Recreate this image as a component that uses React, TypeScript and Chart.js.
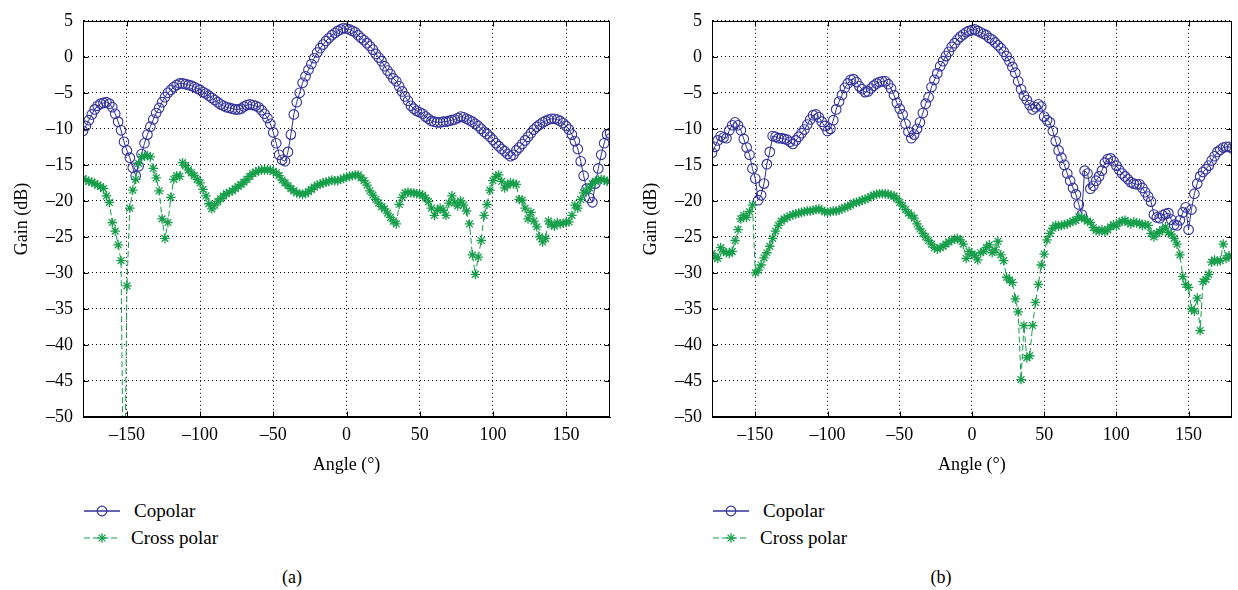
import React, { useEffect, useRef } from "react";
import { Chart, registerables } from "chart.js";

Chart.register(...registerables);

// ---------- data ----------
const angles = [
  -180, -178, -176, -174, -172, -170, -168, -166, -164, -162,
  -160, -158, -156, -154, -152, -150, -148, -146, -144, -142,
  -140, -138, -136, -134, -132, -130, -128, -126, -124, -122,
  -120, -118, -116, -114, -112, -110, -108, -106, -104, -102,
  -100, -98, -96, -94, -92, -90, -88, -86, -84, -82,
  -80, -78, -76, -74, -72, -70, -68, -66, -64, -62,
  -60, -58, -56, -54, -52, -50, -48, -46, -44, -42,
  -40, -38, -36, -34, -32, -30, -28, -26, -24, -22,
  -20, -18, -16, -14, -12, -10, -8, -6, -4, -2,
  0, 2, 4, 6, 8, 10, 12, 14, 16, 18,
  20, 22, 24, 26, 28, 30, 32, 34, 36, 38,
  40, 42, 44, 46, 48, 50, 52, 54, 56, 58,
  60, 62, 64, 66, 68, 70, 72, 74, 76, 78,
  80, 82, 84, 86, 88, 90, 92, 94, 96, 98,
  100, 102, 104, 106, 108, 110, 112, 114, 116, 118,
  120, 122, 124, 126, 128, 130, 132, 134, 136, 138,
  140, 142, 144, 146, 148, 150, 152, 154, 156, 158,
  160, 162, 164, 166, 168, 170, 172, 174, 176, 178,
  180,
];

const copolarA = [
  -10.3, -9.6, -8.8, -8.0, -7.3, -6.8, -6.5, -6.4, -6.3, -6.5,
  -7.0, -7.9, -9.0, -10.2, -11.8, -13.0, -14.0, -15.4, -16.5, -15.2,
  -13.5, -12.0, -10.8, -9.7, -8.7, -7.8, -7.1, -6.3, -5.6, -5.0,
  -4.6, -4.2, -3.9, -3.7, -3.7, -3.8, -3.9, -4.0, -4.2, -4.4,
  -4.6, -4.9, -5.1, -5.4, -5.7, -6.0, -6.3, -6.6, -6.8, -7.0,
  -7.1, -7.2, -7.3, -7.3, -7.2, -6.9, -6.7, -6.6, -6.7, -6.8,
  -7.0, -7.4, -7.9, -8.5, -9.3, -10.5, -12.0, -13.6, -14.3, -14.5,
  -13.2, -10.8, -8.0, -6.3, -5.0, -3.6, -2.7, -1.8, -1.0, -0.2,
  0.6, 1.2, 1.7, 2.2, 2.6, 3.0, 3.3, 3.6, 3.8, 4.0,
  3.9, 3.8, 3.6, 3.4, 3.0, 2.6, 2.3, 1.9, 1.5, 1.0,
  0.4, -0.1, -0.6, -1.3, -1.9, -2.4, -3.0, -3.4, -4.1, -4.8,
  -5.5, -6.1, -6.8, -7.2, -7.5, -7.7, -7.9, -8.3, -8.6, -8.9,
  -9.0, -9.1, -9.1, -9.0, -9.0, -8.9, -8.8, -8.7, -8.5, -8.3,
  -8.4, -8.6, -8.8, -9.0, -9.3, -9.6, -10.0, -10.4, -10.7, -11.1,
  -11.5, -12.0, -12.4, -12.8, -13.1, -13.5, -13.8, -13.6, -13.0, -12.6,
  -12.1, -11.6, -11.1, -10.6, -10.1, -9.7, -9.4, -9.1, -8.9, -8.7,
  -8.6, -8.6, -8.7, -8.9, -9.2, -9.6, -10.1, -10.8, -11.7, -12.8,
  -14.5, -16.5, -18.3, -19.6, -20.2, -17.6, -15.5, -13.6, -12.0, -10.8,
  -10.6,
];

const crossA = [
  -16.9, -17.1, -17.3, -17.4, -17.6, -17.8, -18.0, -18.3, -19.3, -20.2,
  -23.0, -24.2, -26.1, -28.3, -70.0, -31.8, -21.0, -18.5, -17.0, -14.8,
  -13.9, -13.8, -13.7, -13.9, -15.5, -16.8, -18.6, -22.5, -25.2, -23.0,
  -19.5, -17.0, -16.5, -16.6, -14.7, -15.1, -15.7, -16.1, -16.5, -17.0,
  -17.5, -18.4, -19.3, -20.4, -21.1, -20.6, -20.1, -19.7, -19.3, -19.0,
  -18.8, -18.6, -18.3, -18.0, -17.7, -17.4, -17.0, -16.6, -16.2, -16.0,
  -15.8, -15.7, -15.7, -15.7, -15.7, -15.9, -16.1, -16.5, -17.1, -17.5,
  -17.9, -18.3, -18.6, -18.9, -19.0, -19.1, -19.0, -18.7, -18.4, -18.1,
  -17.8, -17.7, -17.5, -17.4, -17.3, -17.1, -17.2, -17.2, -17.0, -16.9,
  -16.7, -16.6, -16.5, -16.4, -16.4, -16.8, -17.2, -17.8, -18.6, -19.2,
  -19.8, -20.3, -20.8, -21.1, -21.7, -22.3, -22.8, -23.2, -20.5, -19.5,
  -18.9, -18.8, -18.9, -18.9, -19.0, -19.1, -19.2, -19.6, -20.1, -21.0,
  -22.0, -21.3, -21.0, -21.3, -22.0, -20.3, -19.3, -20.2, -20.7, -20.0,
  -20.6, -21.4, -23.2, -27.5, -30.2, -27.8, -25.5, -22.0, -20.5, -18.5,
  -17.2, -16.6, -16.4, -17.3, -18.2, -17.8, -17.5, -17.6, -17.7, -19.8,
  -19.9, -21.0, -22.5, -21.6, -22.8, -23.6, -25.0, -25.7, -25.2, -22.8,
  -23.3, -23.5, -23.0, -23.2, -23.1, -23.0, -22.9, -22.0, -20.6, -21.0,
  -19.8, -18.9, -18.6, -18.2, -17.6, -17.3, -17.1, -17.0, -17.1, -17.3,
  -17.3,
];

const copolarB = [
  -13.3, -12.5, -11.6, -11.0, -11.2, -11.3, -10.2, -9.5, -9.1, -9.5,
  -10.2, -11.4, -12.6, -13.6, -15.5, -16.9, -19.9, -19.2, -17.6, -14.9,
  -13.2, -11.0, -11.1, -11.3, -11.3, -11.4, -11.5, -11.8, -12.1, -11.6,
  -11.1, -10.6, -10.1, -9.4, -8.7, -8.1, -8.0, -8.4, -9.0, -9.6,
  -10.3, -10.0, -8.8, -7.3, -6.2, -5.3, -4.3, -3.7, -3.2, -3.1,
  -3.5, -4.1, -4.5, -4.9, -4.8, -4.4, -4.0, -3.7, -3.5, -3.4,
  -3.4, -3.8, -4.4, -5.3, -6.4, -7.2, -8.0, -9.3, -10.4, -11.3,
  -10.8, -10.0, -9.1, -7.8, -6.5, -5.6, -4.2, -3.2, -2.3, -1.3,
  -0.6, 0.1, 0.7, 1.4, 1.9, 2.4, 2.8, 3.1, 3.4, 3.6,
  3.7, 3.8, 3.6, 3.4, 3.2, 3.0, 2.6, 2.4, 2.0, 1.6,
  1.2, 0.7, 0.1, -0.6, -1.4, -2.2, -3.4, -4.5, -5.4, -6.0,
  -6.7, -7.3, -7.0, -6.6, -6.9, -8.3, -8.8, -9.1, -10.3, -11.7,
  -13.0, -14.0, -15.0, -16.2, -17.2, -18.2, -19.1, -20.5, -21.9, -15.8,
  -16.2, -18.3, -17.9, -17.2, -16.6, -15.8, -14.7, -14.2, -14.1, -14.5,
  -15.1, -15.7, -16.2, -16.6, -17.0, -17.4, -17.6, -17.7, -17.7, -18.2,
  -18.8, -19.4, -20.1, -21.9, -22.3, -22.4, -22.0, -21.8, -21.7, -22.6,
  -23.3, -23.4, -22.7, -21.6, -20.9, -24.0, -21.2, -19.0, -17.6, -16.6,
  -16.0, -15.6, -15.1, -14.4, -13.8, -13.2, -12.9, -12.6, -12.5, -12.5,
  -12.7,
];

const crossB = [
  -27.3, -27.8, -28.0, -26.5, -27.0, -27.2, -27.3, -27.0, -25.5, -24.0,
  -22.5, -22.0, -22.3, -21.5, -20.6, -30.0, -29.6, -28.9, -27.9, -27.2,
  -26.3, -25.2, -24.2, -23.4, -22.8, -22.5, -22.3, -22.1, -21.9, -21.8,
  -21.7, -21.6, -21.5, -21.4, -21.4, -21.3, -21.2, -21.1, -21.3, -21.5,
  -21.6, -21.5, -21.4, -21.4, -21.3, -21.1, -20.9, -20.8, -20.6, -20.3,
  -20.2, -20.1, -19.9, -19.8, -19.6, -19.4, -19.2, -19.1, -19.0, -19.0,
  -19.0, -19.1, -19.2, -19.3, -19.7, -20.2, -20.7, -21.2, -21.7, -22.0,
  -22.4, -23.2, -23.9, -24.5, -25.0, -25.5, -26.0, -26.5, -26.7, -26.5,
  -26.3, -26.0, -25.7, -25.5, -25.3, -25.2, -25.4, -26.0, -28.0, -27.0,
  -27.4, -27.6, -28.2, -27.2, -27.0, -26.5, -26.1, -27.2, -26.8, -25.6,
  -27.5, -28.3, -30.6, -31.0, -31.3, -33.6, -35.4, -44.8, -37.3, -41.8,
  -41.5, -37.3, -34.1, -31.6, -28.9, -27.4, -25.4, -24.5, -23.8, -23.4,
  -23.5, -23.4, -23.3, -23.2, -23.0, -22.8, -22.7, -22.2, -22.3, -22.5,
  -22.8, -23.0, -23.7, -24.1, -24.2, -24.0, -24.3, -24.0, -23.6, -23.3,
  -23.5, -23.0, -22.8, -22.7, -23.0, -23.2, -22.9, -23.1, -23.1, -23.4,
  -23.3, -23.4, -24.5, -25.0, -24.5, -24.3, -24.0, -23.6, -24.4, -24.6,
  -25.2, -26.0, -27.5, -30.5, -31.6, -32.0, -35.0, -35.3, -33.5, -38.0,
  -31.2, -30.9, -30.2, -28.5, -28.2, -28.4, -28.3, -26.0, -28.0, -27.6,
  -27.7,
];

const xTickValues = [-150, -100, -50, 0, 50, 100, 150];
const yTickValues = [5, 0, -5, -10, -15, -20, -25, -30, -35, -40, -45, -50];
const xAxisTitle = "Angle (°)";
const yAxisTitle = "Gain (dB)";
const seriesNames = ["Copolar", "Cross polar"];
const panelLabels = ["(a)", "(b)"];

// ---------- style ----------
const FONT = "'Liberation Serif', 'DejaVu Serif', serif";
const CO_COLOR = "rgb(50,50,155)";
const CR_COLOR = "rgb(22,158,74)";

const fmt = (v: number) => (v < 0 ? "\u2013" + Math.abs(v) : String(v));

const boxPlugin = {
  id: "matlabBox",
  afterDatasetsDraw(chart: any) {
    const { ctx, chartArea } = chart;
    const xs = chart.scales.x;
    const ys = chart.scales.y;
    const L = Math.round(chartArea.left) + 0.5;
    const R = Math.round(chartArea.right) - 0.5;
    const T = Math.round(chartArea.top) + 0.5;
    const B = Math.round(chartArea.bottom) - 0.5;
    ctx.save();
    ctx.strokeStyle = "#000";
    ctx.lineWidth = 1;
    ctx.setLineDash([]);
    ctx.strokeRect(L, T, R - L, B - T);
    const tl = 5;
    ctx.beginPath();
    xTickValues.forEach((v) => {
      const px = Math.round(xs.getPixelForValue(v)) + 0.5;
      ctx.moveTo(px, B);
      ctx.lineTo(px, B - tl);
      ctx.moveTo(px, T);
      ctx.lineTo(px, T + tl);
    });
    yTickValues.forEach((v) => {
      const py = Math.round(ys.getPixelForValue(v)) + 0.5;
      ctx.moveTo(L, py);
      ctx.lineTo(L + tl, py);
      ctx.moveTo(R, py);
      ctx.lineTo(R - tl, py);
    });
    ctx.stroke();
    ctx.restore();
  },
};

function Panel({ co, cr, left, width, padRight }: { co: number[]; cr: number[]; left: number; width: number; padRight: number }) {
  const ref = useRef<HTMLCanvasElement | null>(null);
  useEffect(() => {
    if (!ref.current) return;
    const chart = new Chart(ref.current, {
      type: "line",
      data: {
        datasets: [
          {
            label: seriesNames[1],
            data: angles.map((a, i) => ({ x: a, y: cr[i] })),
            borderColor: CR_COLOR,
            backgroundColor: CR_COLOR,
            borderWidth: 1,
            borderDash: [6, 3],
            pointStyle: "star",
            pointRadius: 4.8,
            pointBorderWidth: 1.3,
            pointBorderColor: CR_COLOR,
            tension: 0,
            order: 0,
          },
          {
            label: seriesNames[0],
            data: angles.map((a, i) => ({ x: a, y: co[i] })),
            borderColor: CO_COLOR,
            backgroundColor: "rgba(0,0,0,0)",
            borderWidth: 1,
            pointStyle: "circle",
            pointRadius: 4.8,
            pointBorderWidth: 1.1,
            pointBorderColor: CO_COLOR,
            pointBackgroundColor: "rgba(0,0,0,0)",
            tension: 0,
            order: 1,
          },
        ],
      },
      options: {
        animation: false,
        responsive: false,
        maintainAspectRatio: false,
        events: [],
        layout: { padding: { left: 0, right: padRight, top: 15, bottom: 0 } },
        plugins: { legend: { display: false }, tooltip: { enabled: false } },
        scales: {
          x: {
            type: "linear",
            min: -180,
            max: 180,
            afterBuildTicks: (s: any) => {
              s.ticks = xTickValues.map((v) => ({ value: v }));
            },
            afterFit: (s: any) => {
              s.height = 59;
            },
            grid: { color: "#000", lineWidth: 1, drawTicks: false },
            border: { color: "#000", width: 1, dash: [1, 3] },
            ticks: {
              color: "#000",
              font: { family: FONT, size: 18 },
              padding: 7,
              maxRotation: 0,
              autoSkip: false,
              callback: (v: any) => fmt(Number(v)),
            },
            title: {
              display: true,
              text: xAxisTitle,
              color: "#000",
              font: { family: FONT, size: 18 },
              padding: 0,
            },
          },
          y: {
            type: "linear",
            min: -50,
            max: 5,
            afterBuildTicks: (s: any) => {
              s.ticks = yTickValues.map((v) => ({ value: v }));
            },
            afterFit: (s: any) => {
              s.width = 83;
            },
            grid: { color: "#000", lineWidth: 1, drawTicks: false },
            border: { color: "#000", width: 1, dash: [1, 3] },
            ticks: {
              color: "#000",
              font: { family: FONT, size: 18 },
              padding: 10,
              autoSkip: false,
              callback: (v: any) => fmt(Number(v)),
            },
            title: {
              display: true,
              text: yAxisTitle,
              color: "#000",
              font: { family: FONT, size: 18 },
              padding: { top: 11, bottom: 0 },
            },
          },
        },
      },
      plugins: [boxPlugin],
    } as any);
    return () => chart.destroy();
  }, [co, cr]);
  return (
    <canvas
      ref={ref}
      width={width}
      height={476}
      style={{ position: "absolute", left, top: 0, width, height: 476 }}
    />
  );
}

function Legend({ x0, caption, capX }: { x0: number; caption: string; capX: number }) {
  const lineY1 = 511;
  const lineY2 = 538;
  const r = 4.8;
  const cx = x0 + 18;
  const d = r * Math.SQRT1_2;
  return (
    <>
      <svg
        width={60}
        height={60}
        style={{ position: "absolute", left: x0 - 5, top: 490 }}
        viewBox={`${x0 - 5} 490 60 60`}
      >
        <line x1={x0} y1={lineY1} x2={x0 + 36} y2={lineY1} stroke={CO_COLOR} strokeWidth={1.4} />
        <circle cx={cx} cy={lineY1} r={r} fill="none" stroke={CO_COLOR} strokeWidth={1.2} />
        <line x1={x0} y1={lineY2} x2={x0 + 36} y2={lineY2} stroke={CR_COLOR} strokeWidth={1.2} strokeDasharray="6 3" />
        <g stroke={CR_COLOR} strokeWidth={1.3}>
          <line x1={cx - r} y1={lineY2} x2={cx + r} y2={lineY2} />
          <line x1={cx} y1={lineY2 - r} x2={cx} y2={lineY2 + r} />
          <line x1={cx - d} y1={lineY2 - d} x2={cx + d} y2={lineY2 + d} />
          <line x1={cx - d} y1={lineY2 + d} x2={cx + d} y2={lineY2 - d} />
        </g>
      </svg>
      <div style={{ position: "absolute", left: x0 + 50, top: lineY1 - 11, fontFamily: FONT, fontSize: 19, lineHeight: "22px", color: "#000", whiteSpace: "nowrap" }}>
        {seriesNames[0]}
      </div>
      <div style={{ position: "absolute", left: x0 + 47, top: lineY2 - 11, fontFamily: FONT, fontSize: 19, lineHeight: "22px", color: "#000", whiteSpace: "nowrap" }}>
        {seriesNames[1]}
      </div>
      <div style={{ position: "absolute", left: capX - 30, width: 60, top: 566, textAlign: "center", fontFamily: FONT, fontSize: 18, lineHeight: "22px", color: "#000" }}>
        {caption}
      </div>
    </>
  );
}

export default function App() {
  return (
    <div style={{ position: "absolute", left: 0, top: 0, width: 1238, height: 590, background: "#fff", overflow: "hidden" }}>
      <Panel co={copolarA} cr={crossA} left={0} width={620} padRight={10} />
      <Panel co={copolarB} cr={crossB} left={629} width={609} padRight={1} />
      <Legend x0={84} caption={panelLabels[0]} capX={292} />
      <Legend x0={713} caption={panelLabels[1]} capX={941} />
    </div>
  );
}
